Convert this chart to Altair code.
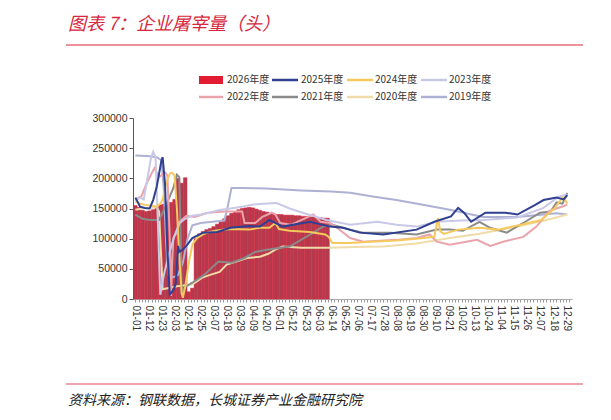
import altair as alt
import pandas as pd

# ---------------- data (day index within a leap-year calendar, 0 = 01-01) ----------------
series_names = ["2026年度", "2025年度", "2024年度", "2023年度",
                "2022年度", "2021年度", "2020年度", "2019年度"]
series_colors = ["#E31B33", "#2F3F91", "#F4C95D", "#C9C8E6",
                 "#EBA3AA", "#8A8A8A", "#F0DCA8", "#AEB0D4"]

bar_days = [0, 3, 6, 9, 12, 15, 18, 21, 24, 27, 30, 33, 36, 39, 42, 45, 48, 51, 54, 57,
            60, 63, 66, 69, 72, 75, 78, 81, 84, 87, 90, 93, 96, 99, 102, 105, 108, 111,
            114, 117, 120, 123, 126, 129, 132, 135, 138, 141, 144, 147, 150, 153, 156, 159, 162]
bar_2026 = [155000, 152000, 147000, 145000, 146000, 148000, 152000, 156000, 157000, 158000,
            160000, 165000, 200000, 192000, 201000, 12000, 18000, 100000, 108000, 112000,
            115000, 117000, 120000, 124000, 128000, 133000, 138000, 142000, 145000, 148000,
            150000, 151000, 152000, 151000, 149000, 147000, 145000, 144000, 142000, 141000,
            140000, 140000, 139000, 139000, 139000, 138000, 138000, 137000, 137000, 136000,
            136000, 135000, 135000, 134000, 134000]

days_2025 = [0, 4, 8, 12, 15, 18, 22, 23, 25, 27, 29, 32, 34, 36, 37, 40, 43, 48, 57, 69, 80,
             96, 105, 113, 124, 147, 164, 175, 189, 209, 237, 252, 266, 272, 277, 283, 295,
             312, 322, 337, 344, 355, 361, 364]
vals_2025 = [168000, 153000, 151000, 150000, 164000, 186000, 230000, 235000, 190000, 80000,
             7000, 15000, 25000, 88000, 78000, 82000, 88000, 101000, 110000, 111000, 118000,
             121000, 120000, 131000, 120000, 128000, 120000, 118000, 110000, 107000, 115000,
             128000, 137000, 151000, 143000, 128000, 143000, 143000, 140000, 156000, 164000,
             168000, 165000, 172000]

days_2024 = [0, 4, 8, 13, 18, 21, 23, 26, 29, 31, 33, 35, 37, 39, 40, 42, 45, 48, 52, 57, 62,
             70, 80, 96, 105, 113, 118, 121, 130, 147, 160, 163, 166, 180, 198, 220, 237, 252,
             255, 257, 260, 272, 290, 306, 325, 342, 353, 357, 360, 362, 364]
vals_2024 = [162000, 158000, 156000, 155000, 153000, 158000, 165000, 192000, 208000, 209000,
             205000, 150000, 70000, 10000, 2000, 20000, 60000, 90000, 101000, 107000, 111000,
             114000, 116000, 115000, 118000, 118000, 126000, 116000, 113000, 111000, 107000,
             103000, 93000, 93000, 95000, 97000, 100000, 103000, 134000, 112000, 108000,
             115000, 118000, 115000, 123000, 131000, 150000, 160000, 168000, 165000, 158000]

days_2023 = [0, 4, 7, 10, 13, 15, 17, 19, 21, 24, 28, 33, 37, 42, 48, 55, 62, 70, 80, 90, 97,
             108, 119, 130, 141, 161, 181, 204, 220, 237, 254, 275, 293, 322, 344, 357, 364]
vals_2023 = [163000, 168000, 165000, 198000, 232000, 244000, 235000, 126000, 7000, 40000,
             72000, 105000, 125000, 133000, 138000, 140000, 143000, 147000, 150000, 153000,
             156000, 158000, 159000, 150000, 143000, 131000, 123000, 128000, 123000, 120000,
             128000, 130000, 131000, 135000, 151000, 170000, 173000]

days_2022 = [0, 5, 10, 16, 20, 25, 27, 29, 30, 31, 32, 35, 37, 43, 50, 61, 75, 90, 92, 101,
             107, 115, 118, 122, 131, 150, 156, 164, 170, 181, 192, 220, 237, 248, 254, 265,
             288, 299, 310, 327, 338, 349, 358, 364]
vals_2022 = [165000, 170000, 194000, 217000, 202000, 210000, 205000, 100000, 5000, 60000,
             101000, 110000, 128000, 138000, 136000, 143000, 145000, 145000, 126000, 126000,
             136000, 143000, 140000, 126000, 123000, 140000, 128000, 126000, 118000, 101000,
             95000, 98000, 101000, 107000, 95000, 90000, 98000, 88000, 95000, 103000,
             120000, 146000, 152000, 156000]

days_2021 = [0, 6, 12, 20, 26, 32, 35, 37, 38, 39, 42, 48, 58, 70, 81, 92, 101, 112, 130,
             150, 158, 166, 181, 192, 215, 237, 254, 265, 276, 290, 299, 313, 327, 341, 350,
             355, 360, 364]
vals_2021 = [140000, 133000, 131000, 131000, 156000, 184000, 206000, 202000, 120000, 12000,
             20000, 27000, 40000, 62000, 60000, 68000, 78000, 82000, 87000, 110000, 120000,
             123000, 115000, 110000, 110000, 107000, 115000, 115000, 113000, 128000, 118000,
             110000, 126000, 143000, 145000, 160000, 158000, 176000]

days_2020 = [0, 6, 12, 18, 20, 21, 23, 35, 48, 56, 63, 71, 77, 85, 94, 105, 112, 118, 124,
             140, 164, 185, 209, 237, 265, 290, 322, 345, 364]
vals_2020 = [148000, 150000, 151000, 152000, 145000, 100000, 16000, 21000, 24000, 35000,
             40000, 45000, 57000, 62000, 68000, 70000, 75000, 82000, 87000, 85000, 85000,
             86000, 87000, 92000, 101000, 108000, 120000, 130000, 140000]

days_2019 = [0, 10, 18, 22, 24, 26, 28, 32, 36, 40, 44, 48, 55, 65, 75, 78, 81, 90, 110,
             140, 165, 181, 200, 220, 240, 265, 293, 322, 344, 355, 364]
vals_2019 = [238000, 237000, 235000, 230000, 180000, 90000, 40000, 36000, 40000, 60000,
             100000, 122000, 126000, 128000, 130000, 155000, 184000, 184000, 183000, 180000,
             178000, 176000, 170000, 164000, 157000, 148000, 136000, 136000, 140000, 142000,
             140000]

y_ticks = [0, 50000, 100000, 150000, 200000, 250000, 300000]
x_tick_days = [i * 2.75 for i in range(0, 134)]   # minor ticks; labels every 11 days

title_text = "图表 7：企业屠宰量（头）"
source_text = "资料来源：钢联数据，长城证券产业金融研究院"

# ---------------- scales / axes ----------------
x_scale = alt.Scale(domain=[-2, 368], nice=False, zero=False)
y_scale = alt.Scale(domain=[0, 300000], nice=False)

x_axis = alt.Axis(
    values=x_tick_days,
    labelExpr="datum.value % 11 == 0 ? timeFormat(datetime(2024, 0, 1 + datum.value), '%m-%d') : ''",
    labelAngle=90, labelAlign="left", labelBaseline="middle",
    labelOverlap=False, labelFlush=False, labelFontSize=10, labelColor="#333",
    labelFont="Liberation Sans", labelPadding=3,
    tickSize=3, tickColor="#999", domainColor="#aaa", grid=False, title=None,
)
y_axis = alt.Axis(
    values=y_ticks, format="d", labelFontSize=10.5, labelColor="#333",
    labelFont="Liberation Sans", tickSize=4, tickColor="#555", domainColor="#555",
    grid=False, title=None, labelPadding=2,
)

# ---------------- data layers ----------------
bar_df = pd.DataFrame({"day": bar_days, "value": bar_2026})
bar_df["x1"] = bar_df["day"] - 1.5
bar_df["x2"] = bar_df["day"] + 1.5

bars = alt.Chart(bar_df).mark_rect(fill="#B23B4E", stroke="#E3213A", strokeWidth=0.5).encode(
    x=alt.X("x1:Q", scale=x_scale, axis=x_axis),
    x2="x2:Q",
    y=alt.Y("value:Q", scale=y_scale, axis=y_axis),
    y2=alt.datum(0),
)

line_sets = [
    ("2019年度", days_2019, vals_2019, series_colors[7]),
    ("2020年度", days_2020, vals_2020, series_colors[6]),
    ("2021年度", days_2021, vals_2021, series_colors[5]),
    ("2022年度", days_2022, vals_2022, series_colors[4]),
    ("2023年度", days_2023, vals_2023, series_colors[3]),
    ("2024年度", days_2024, vals_2024, series_colors[2]),
    ("2025年度", days_2025, vals_2025, series_colors[1]),
]

layers = [bars]
for name, d, v, c in line_sets:
    df = pd.DataFrame({"day": d, "value": v, "series": name})
    layers.append(
        alt.Chart(df).mark_line(color=c, strokeWidth=2).encode(
            x=alt.X("day:Q", scale=x_scale, axis=x_axis),
            y=alt.Y("value:Q", scale=y_scale, axis=y_axis),
        )
    )

# ---------------- title, footer, legend (plot-relative pixel positions) ----------------
def text_layer(txt, x, y, size, color, italic=False, font="Noto Sans CJK SC"):
    return alt.Chart(pd.DataFrame({"t": [txt]})).mark_text(
        align="left", baseline="middle", fontSize=size, color=color, font=font,
        fontStyle="italic" if italic else "normal",
    ).encode(text="t:N", x=alt.value(x), y=alt.value(y))

def rule_layer(x1, x2, y, color, width):
    return alt.Chart(pd.DataFrame({"a": [0]})).mark_rule(color=color, strokeWidth=width).encode(
        x=alt.value(x1), x2=alt.value(x2), y=alt.value(y))

layers.append(text_layer(title_text, -65, -93, 18, "#D7263D", italic=True))
layers.append(rule_layer(-67, 450, -73, "#D7263D", 1.2))
layers.append(rule_layer(475, 480, -73, "#D7263D", 1.2))
layers.append(rule_layer(-67, 450, 266, "#E0485A", 1.2))
layers.append(rule_layer(475, 480, 266, "#E0485A", 1.2))
layers.append(text_layer(source_text, -65, 283, 14, "#222", italic=True))

swatch_x = [(66, 90), (139, 165), (214, 240), (288, 314)]
text_x = [94, 168, 242, 316]
row_y = [-38, -21]
for i, name in enumerate(series_names):
    r, c = divmod(i, 4)
    x1, x2 = swatch_x[c]
    y = row_y[r]
    if i == 0:
        layers.append(
            alt.Chart(pd.DataFrame({"a": [0]})).mark_rect(color=series_colors[0]).encode(
                x=alt.value(x1), x2=alt.value(x2), y=alt.value(y - 4), y2=alt.value(y + 4))
        )
    else:
        layers.append(rule_layer(x1, x2, y, series_colors[i], 2.5))
    layers.append(text_layer(name, text_x[c], y, 10, "#333"))

chart = alt.layer(*layers).properties(
    width=439, height=181,
    padding={"left": 125, "top": 110, "right": 31, "bottom": 113},
    autosize=alt.AutoSizeParams(type="none"),
    background="white",
).configure_view(stroke=None)

chart.save("out.html", embed_options={"renderer": "svg", "actions": False})
